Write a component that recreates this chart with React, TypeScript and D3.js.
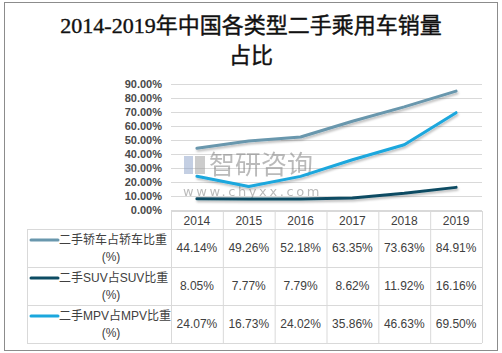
import React from 'react';
import * as d3 from 'd3';

const years = ['2014', '2015', '2016', '2017', '2018', '2019'];
const sedanShare = [44.14, 49.26, 52.18, 63.35, 73.63, 84.91];
const suvShare = [8.05, 7.77, 7.79, 8.62, 11.92, 16.16];
const mpvShare = [24.07, 16.73, 24.02, 35.86, 46.63, 69.5];
const seriesNames = ['二手轿车占轿车比重', '二手SUV占SUV比重', '二手MPV占MPV比重'];
const seriesColors = ['#6997ad', '#0d4c63', '#1ba7dd'];
const yTicks = [0, 10, 20, 30, 40, 50, 60, 70, 80, 90];

const App = () => {
  const ref = React.useRef<SVGSVGElement>(null);

  React.useEffect(() => {
    const svg = d3.select(ref.current);
    svg.selectAll('*').remove();

    const width = 502;
    const height = 353;
    const plot = { left: 171, right: 482, top: 84, bottom: 210 };
    const tableLeft = 27;
    const headerH = 18;
    const rowH = 38;
    const seriesData = [sedanShare, suvShare, mpvShare];

    svg.append('rect')
      .attr('x', 4.5).attr('y', 2.5)
      .attr('width', width - 9).attr('height', height - 5)
      .attr('fill', '#fff').attr('stroke', '#8c8c8c').attr('stroke-width', 1);

    const title = svg.append('text')
      .attr('text-anchor', 'middle')
      .attr('font-family', '"Liberation Serif", "Noto Sans CJK SC", serif')
      .attr('font-size', 22)
      .attr('fill', '#111')
      .attr('stroke', '#111')
      .attr('stroke-width', 0.4);
    title.append('tspan').attr('x', 251).attr('y', 33).text('2014-2019年中国各类型二手乘用车销量');
    title.append('tspan').attr('x', 251).attr('y', 63).text('占比');

    const x = d3.scaleBand().domain(years).range([plot.left, plot.right]);
    const y = d3.scaleLinear().domain([0, 90]).range([plot.bottom, plot.top]);

    svg.append('g')
      .selectAll('line')
      .data(yTicks)
      .join('line')
      .attr('x1', plot.left).attr('x2', plot.right)
      .attr('y1', d => y(d) + 0.5).attr('y2', d => y(d) + 0.5)
      .attr('stroke', '#d9d9d9');

    svg.append('g')
      .selectAll('text')
      .data(yTicks)
      .join('text')
      .attr('x', 162)
      .attr('y', d => y(d) + 4)
      .attr('text-anchor', 'end')
      .attr('font-family', '"Liberation Sans", Arial, sans-serif')
      .attr('font-size', 11)
      .attr('font-weight', 'bold')
      .attr('fill', '#4a4a4a')
      .text(d => d.toFixed(2) + '%');

    // watermark
    const wm = svg.append('g').attr('opacity', 0.5);
    wm.append('rect').attr('x', 184).attr('y', 156).attr('width', 9).attr('height', 18).attr('fill', '#8aa0c8');
    wm.append('rect').attr('x', 195).attr('y', 156).attr('width', 10).attr('height', 18).attr('fill', '#9a9a9a');
    wm.append('text')
      .attr('x', 209).attr('y', 174)
      .attr('font-family', '"Noto Sans CJK SC", sans-serif')
      .attr('font-size', 26)
      .attr('fill', '#777')
      .text('智研咨询');
    wm.append('text')
      .attr('x', 183).attr('y', 196)
      .attr('font-family', '"DejaVu Sans", sans-serif')
      .attr('font-size', 13)
      .attr('letter-spacing', 2.6)
      .attr('fill', '#777')
      .text('www.chyxx.com');

    const line = d3.line<number>()
      .x((_, i) => (x(years[i]) as number) + x.bandwidth() / 2)
      .y(d => y(d));

    const defs = svg.append('defs');
    const f = defs.append('filter').attr('id', 'shadow').attr('x', '-10%').attr('y', '-50%').attr('width', '120%').attr('height', '200%');
    f.append('feDropShadow').attr('dx', 1).attr('dy', 2).attr('stdDeviation', 1.2).attr('flood-color', '#000').attr('flood-opacity', 0.25);

    seriesData.forEach((vals, i) => {
      svg.append('path')
        .datum(vals)
        .attr('fill', 'none')
        .attr('stroke', seriesColors[i])
        .attr('stroke-width', 3)
        .attr('stroke-linecap', 'round')
        .attr('stroke-linejoin', 'round')
        .attr('filter', 'url(#shadow)')
        .attr('d', line);
    });

    // data table
    const tTop = plot.bottom + 1;
    const tBottom = tTop + headerH + rowH * 3;
    const grid = svg.append('g').attr('stroke', '#d9d9d9').attr('fill', 'none');
    grid.append('line').attr('x1', plot.left).attr('x2', plot.right).attr('y1', tTop + 0.5).attr('y2', tTop + 0.5);
    [0, 1, 2, 3].forEach(r => {
      const yy = tTop + headerH + r * rowH + 0.5;
      grid.append('line').attr('x1', tableLeft).attr('x2', plot.right).attr('y1', yy).attr('y2', yy);
    });
    grid.append('line').attr('x1', tableLeft + 0.5).attr('x2', tableLeft + 0.5).attr('y1', tTop + headerH).attr('y2', tBottom);
    [...years.map(d => x(d) as number), plot.right].forEach(xx => {
      grid.append('line').attr('x1', xx + 0.5).attr('x2', xx + 0.5).attr('y1', tTop).attr('y2', tBottom);
    });

    const txt = svg.append('g')
      .attr('font-family', '"Liberation Sans", "Noto Sans CJK SC", sans-serif')
      .attr('font-size', 12)
      .attr('fill', '#404040')
      .attr('text-anchor', 'middle');

    years.forEach(yr => {
      txt.append('text')
        .attr('x', (x(yr) as number) + x.bandwidth() / 2)
        .attr('y', tTop + 14)
        .text(yr);
    });

    seriesData.forEach((vals, i) => {
      const rowTop = tTop + headerH + i * rowH;
      vals.forEach((v, j) => {
        txt.append('text')
          .attr('x', (x(years[j]) as number) + x.bandwidth() / 2)
          .attr('y', rowTop + 23)
          .text(v.toFixed(2) + '%');
      });
      svg.append('line')
        .attr('x1', 31).attr('x2', 58)
        .attr('y1', rowTop + 11).attr('y2', rowTop + 11)
        .attr('stroke', seriesColors[i])
        .attr('stroke-width', 3)
        .attr('stroke-linecap', 'round');
      txt.append('text')
        .attr('x', 59).attr('y', rowTop + 15)
        .attr('text-anchor', 'start')
        .text(seriesNames[i]);
      txt.append('text')
        .attr('x', 111).attr('y', rowTop + 32)
        .text('(%)');
    });
  }, []);

  return (
    <svg ref={ref} width={502} height={353} style={{ position: 'absolute', left: 0, top: 0 }} />
  );
};

export default App;
